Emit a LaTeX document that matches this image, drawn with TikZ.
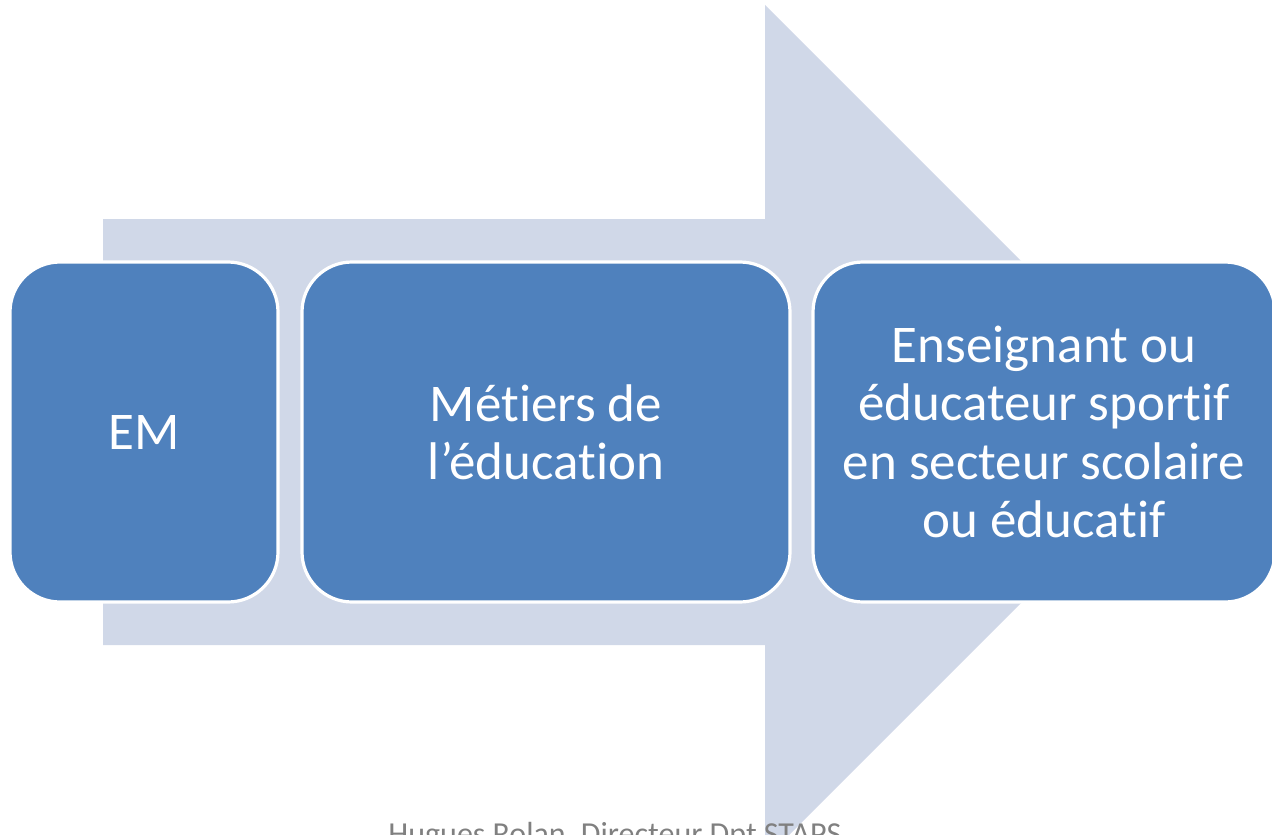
\documentclass[tikz,border=0pt]{standalone}
\usepackage{fontspec}
\setmainfont{Carlito}[Ligatures=NoCommon]
\usetikzlibrary{positioning}
\definecolor{stageblue}{HTML}{4F81BD}
\definecolor{arrowgray}{HTML}{D0D8E8}

\begin{document}
\begin{tikzpicture}[x=0.5pt,y=-0.5pt]
\tikzstyle{stage}=[draw=white, line width=1.6pt, fill=stageblue, rounded corners=25pt,
  text=white, align=center, minimum height=170pt, inner sep=4pt,
  font=\fontsize{26.5}{29.2}\selectfont]
\useasboundingbox (0,0) rectangle (1272,834);
\clip (0,0) rectangle (1272,834);
\fill[arrowgray] (103,219) -- (765,219) -- (765,5) -- (1192,432) -- (765,859)
  -- (765,645) -- (103,645) -- cycle;
\node (em) [stage, minimum width=134pt] at (144,432) {EM};
\node (metiers) [stage, minimum width=244pt] at (546,432) {Métiers de\\l’éducation};
\node (enseignant) [stage, minimum width=231pt] at (1044,432)
  {Enseignant ou\\éducateur sportif\\en secteur scolaire\\ou éducatif};
\node (auteur) [anchor=north west, inner sep=0pt, text=gray, font=\fontsize{16}{19}\selectfont]
  at (388,822) {Hugues Rolan, Directeur Dpt STAPS};
\end{tikzpicture}
\end{document}
